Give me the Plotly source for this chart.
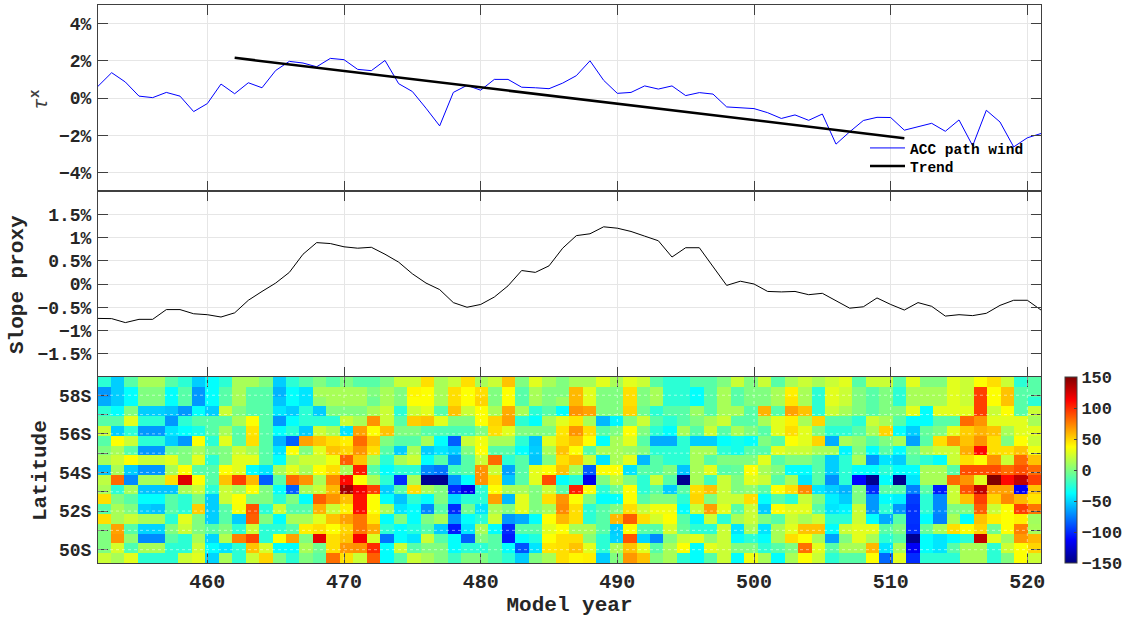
import plotly.graph_objects as go

years = list(range(452, 522))
wind_pct = [0.63,1.36,0.86,0.1,0.02,0.3,0.1,-0.73,-0.3,0.75,0.23,0.82,0.55,1.48,1.97,1.88,1.68,2.13,2.06,1.54,1.47,2.02,0.77,
            0.35,-0.55,-1.5,0.3,0.68,0.42,1.0,1.0,0.58,0.55,0.5,0.8,1.2,2.0,0.95,0.25,0.3,0.65,0.48,0.65,0.13,0.29,0.21,-0.48,-0.54,
            -0.57,-0.79,-1.1,-0.91,-1.2,-0.86,-2.48,-1.82,-1.21,-1.04,-1.05,-1.73,-1.55,-1.36,-1.79,-1.18,-2.57,-0.66,-1.29,-2.63,-2.14,-1.91]
trend_years = [462, 511]
trend_pct = [2.16, -2.16]
slope_pct = [-0.74,-0.745,-0.83,-0.76,-0.76,-0.55,-0.55,-0.64,-0.66,-0.71,-0.62,-0.35,-0.16,0.02,0.25,0.64,0.89,0.87,0.8,0.77,0.79,0.64,0.47,
             0.22,0.02,-0.12,-0.4,-0.5,-0.44,-0.28,-0.04,0.29,0.25,0.39,0.77,1.04,1.08,1.23,1.2,1.13,1.03,0.93,0.58,0.78,0.78,0.38,-0.03,0.06,0.0,
             -0.16,-0.17,-0.16,-0.23,-0.2,-0.36,-0.52,-0.49,-0.3,-0.44,-0.56,-0.4,-0.48,-0.69,-0.66,-0.68,-0.63,-0.46,-0.35,-0.35,-0.56]

r00 = [-25,-52,-12,12,12,-12,-25,-52,-37,-25,12,12,0,-52,-25,-12,0,-12,0,-12,-12,0,22,22,
       47,12,22,47,12,22,55,0,29,12,0,12,12,29,12,29,22,-12,-25,-25,-12,-12,0,22,0,
       22,-12,12,22,12,22,29,-12,22,22,-12,29,0,0,29,22,37,47,22,-25,-12]
r01 = [-68,-52,-37,0,0,-37,-12,-68,-37,-12,12,-12,-12,-60,-37,-45,12,12,12,12,0,12,0,40,
       37,12,47,37,47,0,37,-12,12,0,0,58,29,0,0,47,0,12,-25,-25,-37,-12,12,-12,0,
       0,12,42,12,-25,29,22,0,-12,0,-25,12,12,12,29,22,94,37,55,-12,-12]
r02 = [-62,-52,-37,0,0,-37,-12,-68,-37,-12,12,-12,-12,-55,-37,-45,5,12,12,12,-5,12,0,37,
       37,12,47,37,50,0,37,-12,12,0,8,58,29,0,0,47,0,12,-25,-25,-37,-12,12,-12,0,
       0,12,45,12,-25,29,22,0,-12,0,-25,12,12,12,29,22,94,37,55,-12,-25]
r03 = [-25,-37,0,-52,-52,-55,-68,-37,-52,22,0,-12,-12,-45,-52,-25,-52,0,0,0,12,22,-25,22,
       29,-12,55,22,37,12,62,12,-25,-12,-37,69,65,0,0,50,-5,-25,-12,-12,8,-12,12,12,-12,
       60,-12,65,55,-25,22,12,0,-12,0,0,29,-37,29,29,29,94,22,37,-12,22]
r04 = [-12,-12,29,-25,-25,-68,-25,-12,-12,-12,12,37,-12,-68,-37,-25,-25,-25,22,12,69,22,-12,52,
       55,29,0,0,37,50,65,-25,-37,12,29,45,12,-58,-40,0,22,-12,-25,-12,0,12,22,-12,-12,
       12,29,42,12,50,-12,-12,-25,22,12,-12,-37,-37,-12,-12,81,69,29,29,29,12]
r05 = [22,-52,-25,-68,-68,-45,-37,-30,-12,12,-12,45,-12,-37,-25,-52,22,12,-45,65,37,55,0,0,
       -12,-15,-15,-15,0,47,29,0,0,0,45,69,47,-12,0,37,0,-25,-37,12,-12,22,-12,12,0,
       -12,29,47,29,0,-25,-25,-12,12,50,-37,-52,-8,0,29,52,60,55,12,29,29]
r06 = [-12,37,22,-25,-25,-52,-68,37,-25,29,-12,47,-12,-60,-85,65,55,47,42,81,55,0,-12,-12,
       12,-37,-85,22,33,12,12,-25,-55,29,47,55,37,-37,12,29,-12,-62,-62,-25,-52,-52,-37,-32,-37,
       0,-12,37,29,50,-62,12,5,-12,0,12,-65,-12,47,69,55,69,47,0,37,22]
r07 = [0,12,-12,-68,-68,-5,0,12,-5,0,22,12,-12,-45,37,0,29,55,50,69,47,-12,-52,12,
       -52,-45,-52,0,37,-12,-12,-37,-52,12,55,37,-12,12,12,8,0,-25,-25,-25,12,12,-25,-32,-12,
       -12,29,22,22,12,12,-40,0,-37,-12,-37,-6,12,22,22,62,110,47,47,55,33]
r08 = [12,22,37,22,22,29,0,29,-25,0,29,29,-12,-37,12,22,22,33,85,55,12,-25,12,22,
       -37,-12,-68,-12,22,81,-25,-12,-55,0,47,55,22,-45,12,29,-58,-12,-25,-25,12,-12,0,0,0,
       29,-12,0,0,-12,-52,-25,12,-68,-45,-52,-12,-25,-37,22,47,37,69,22,81,55]
r09 = [-55,12,-52,-68,-68,12,37,-12,-12,37,29,-37,-45,12,29,12,37,47,12,105,-12,-37,-25,-25,
       -72,-78,-18,-12,69,22,-65,-12,30,37,55,12,-85,37,37,-45,-12,-12,0,-55,12,29,-12,-8,37,
       12,0,-37,-37,-12,-52,-25,-37,-37,-25,-37,-37,12,12,-12,90,90,90,81,90,81]
r10 = [18,81,-72,12,12,47,122,37,-12,55,94,58,-85,-12,81,69,12,72,110,37,12,-25,-100,12,
       -145,-145,-68,-37,69,47,-55,-12,29,90,-37,-25,-118,0,20,0,-25,22,-12,-145,12,-18,22,0,29,
       22,-12,12,-45,-12,-70,-25,-112,-145,-37,-145,-45,12,12,81,69,29,150,110,131,94]
r11 = [12,-25,12,-55,-55,-55,12,22,-25,22,12,37,0,-37,-85,12,22,58,140,115,94,-52,-12,47,
       12,0,-100,-118,-25,37,12,12,0,22,-12,103,37,-25,-5,37,-25,-12,-52,-12,47,55,22,0,5,
       -12,37,47,72,-45,-52,-60,0,-100,-12,-12,-75,-12,-105,22,88,131,65,65,-115,55]
r12 = [47,0,-12,-37,-37,-12,-25,0,-52,22,37,0,0,-25,0,-37,85,69,55,108,37,-37,-55,-25,
       -37,0,-48,-25,-25,65,-58,29,0,47,69,37,0,-37,-37,37,-12,0,0,-25,50,0,22,22,47,
       -37,-12,-25,22,0,-42,-52,0,-68,-37,-42,-95,-25,-72,22,55,94,50,72,58,45]
r13 = [-12,12,0,-52,-55,-12,-25,52,-52,-12,35,88,-25,22,-12,-12,60,22,42,108,37,12,-45,-37,
       -72,-12,-100,-5,-45,12,0,29,0,12,72,47,-25,-12,0,47,22,33,33,-37,22,66,29,-12,22,
       -52,37,29,29,-12,-45,-40,22,-68,-25,-68,-98,-25,-72,0,0,85,22,37,94,78]
r14 = [47,12,22,12,12,-25,29,0,-52,-12,-52,85,0,-37,12,12,29,55,65,78,45,-37,0,-37,
       0,12,-68,-37,-25,22,-68,-62,-37,37,58,47,-25,-12,58,85,47,25,37,-12,-40,22,-25,12,22,
       0,-12,22,12,22,-25,-25,22,-37,-62,-12,-98,-37,-75,12,-37,55,42,37,42,10]
r15 = [0,65,-12,-50,-50,0,22,0,-12,0,-25,22,-25,-25,-12,42,47,37,50,78,62,-25,-37,-28,
       -12,-52,-105,-45,12,-37,-100,-12,-12,29,37,12,12,-12,-52,37,-12,-12,25,-8,-25,-25,22,-45,12,
       -45,12,29,55,55,-37,22,29,29,-12,0,-100,-8,12,47,37,50,-5,37,75,12]
r16 = [0,68,5,-72,-72,-12,-25,12,-50,15,75,92,-25,37,65,0,120,47,55,115,26,-78,-37,-45,
       22,-12,-37,-85,0,-12,-105,-37,-28,37,47,47,3,-25,-50,88,-50,-72,0,22,29,5,22,-37,-25,
       -37,12,47,37,12,-65,0,29,12,-25,-12,-145,-37,-45,-37,-25,131,29,8,68,58]
r17 = [0,25,-15,12,12,-25,-25,22,-37,-45,-25,55,25,-37,-37,12,-5,47,68,70,100,-37,22,-12,
       0,0,-37,-25,-25,-12,-37,-88,-45,45,47,55,29,-25,12,55,29,-12,12,37,-37,29,22,0,0,
       -25,-12,0,80,29,-12,12,12,58,-45,12,-115,-37,-45,-12,12,12,-25,22,37,50]
r18 = [22,12,29,-25,-25,-25,22,29,-50,12,-25,22,50,0,-25,0,-10,80,47,22,85,-37,-12,22,
       12,0,-20,0,0,-12,-25,-52,0,12,47,40,42,-52,0,68,55,0,12,-25,-37,-12,22,-37,33,
       12,-37,12,37,22,-25,-12,-12,37,-82,29,-100,-25,-25,-25,12,12,-25,0,37,22]
heat_rows = [r00,r01,r02,r03,r04,r05,r06,r07,r08,r09,r10,r11,r12,r13,r14,r15,r16,r17,r18]

x_edges = [452] + [452.93 + k * (521 - 452.93) / 69 for k in range(70)]
lat_edges = [-58.945 + k * 0.5071 for k in range(20)]

year_ticks = [460, 470, 480, 490, 500, 510, 520]
wind_ticks = [-4, -2, 0, 2, 4]
wind_labels = ['−4%', '−2%', '0%', '2%', '4%']
slope_ticks = [-1.5, -1, -0.5, 0, 0.5, 1, 1.5]
slope_labels = ['−1.5%', '−1%', '−0.5%', '0%', '0.5%', '1%', '1.5%']
lat_ticks = [-58, -56, -54, -52, -50]
lat_labels = ['58S', '56S', '54S', '52S', '50S']
lat_minor = [-57, -55, -53, -51]
cbar_ticks = [-150, -100, -50, 0, 50, 100, 150]

W, H = 1128, 617
MONO = 'Liberation Mono'
INK = '#262626'
LINE = '#404040'
GRID = '#e6e6e6'
L, R = 98, 1041
jet = [[0, '#000080'], [0.125, '#0000ff'], [0.375, '#00ffff'], [0.625, '#ffff00'], [0.875, '#ff0000'], [1, '#800000']]

fig = go.Figure()
fig.add_trace(go.Scatter(x=years, y=wind_pct, mode='lines', name='ACC path wind', legend='legend',
                         line=dict(color='#0000ff', width=1), xaxis='x', yaxis='y'))
fig.add_trace(go.Scatter(x=trend_years, y=trend_pct, mode='lines', name='Trend', legend='legend2',
                         line=dict(color='black', width=2.5), xaxis='x', yaxis='y'))
fig.add_trace(go.Scatter(x=years, y=slope_pct, mode='lines', showlegend=False,
                         line=dict(color='black', width=1), xaxis='x2', yaxis='y2'))
fig.add_trace(go.Heatmap(x=x_edges, y=lat_edges, z=heat_rows, zmin=-150, zmax=150, colorscale=jet,
                         xaxis='x3', yaxis='y3',
                         colorbar=dict(x=1065 / W, xanchor='left', y=1 - 377 / H, yanchor='top',
                                       len=186 / H, lenmode='fraction', thickness=12, thicknessmode='pixels',
                                       xpad=0, ypad=0, outlinecolor=LINE, outlinewidth=1,
                                       tickvals=cbar_ticks, ticks='inside', ticklen=3, tickcolor=LINE,
                                       tickfont=dict(family=MONO, size=17, color=INK, weight='bold'))))

def xa(anchor, show):
    return dict(domain=[L / W, R / W], range=[452, 521], tickvals=year_ticks, ticks='inside', ticklen=10,
                tickcolor=LINE, tickwidth=1, linecolor=LINE, linewidth=1, mirror='ticks',
                showgrid=True, gridcolor=GRID, gridwidth=1, zeroline=False, showticklabels=show,
                tickfont=dict(family=MONO, size=20, color=INK, weight='bold'), anchor=anchor)

def ya(top, bot, rng, vals, labels, anchor):
    return dict(domain=[1 - bot / H, 1 - top / H], range=rng, tickvals=vals, ticktext=labels, ticks='inside',
                ticklen=10, tickcolor=LINE, tickwidth=1, linecolor=LINE, linewidth=1, mirror='ticks',
                showgrid=True, gridcolor=GRID, gridwidth=1, zeroline=False, anchor=anchor, ticklabelstandoff=2,
                tickfont=dict(family=MONO, size=18, color=INK, weight='bold'))

def lg(top):
    return dict(x=865 / W, y=1 - top / H, xanchor='left', yanchor='top', bgcolor='rgba(0,0,0,0)',
                itemwidth=35, font=dict(family=MONO, size=14.5, color='black', weight='bold'))

y3 = ya(377, 563, [-49.31, -58.945], lat_ticks, lat_labels, 'x3')
y3['minor'] = dict(tickvals=lat_minor, ticks='inside', ticklen=10, tickcolor=LINE, tickwidth=1, showgrid=False)

fig.update_layout(
    width=W, height=H, margin=dict(l=0, r=0, t=0, b=0, autoexpand=False), paper_bgcolor='white', plot_bgcolor='white',
    xaxis=xa('y', False), xaxis2=xa('y2', False), xaxis3=xa('y3', True),
    yaxis=ya(5, 191, [-5, 5], wind_ticks, wind_labels, 'x'),
    yaxis2=ya(191, 377, [-2, 2], slope_ticks, slope_labels, 'x2'),
    yaxis3=y3,
    legend=lg(132), legend2=lg(150),
    showlegend=True,
)
fig.update_layout(xaxis3_title=dict(text='Model year', font=dict(family=MONO, size=21, color=INK, weight='bold'), standoff=12))

annos = [
    dict(text='Slope proxy', x=17 / W, y=1 - 285 / H, textangle=-90, font=dict(family=MONO, size=21, color=INK, weight='bold')),
    dict(text='Latitude', x=40 / W, y=1 - 471 / H, textangle=-90, font=dict(family=MONO, size=21, color=INK, weight='bold')),
    dict(text='<i>τ</i><sup><b>x</b></sup>', x=40 / W, y=1 - 100 / H, textangle=-90, font=dict(family=MONO, size=20, color='#404040')),
]
fig.update_layout(annotations=[dict(a, xref='paper', yref='paper', showarrow=False, xanchor='center', yanchor='middle') for a in annos])

dotted = dict(color='rgba(255,255,255,0.5)', width=1, dash='dot')
shapes = [dict(type='line', layer='above', xref='x3', yref='y3', x0=452, x1=521, y0=t, y1=t, line=dotted) for t in lat_ticks + lat_minor]
shapes += [dict(type='line', layer='above', xref='x3', yref='y3', x0=t, x1=t, y0=-58.945, y1=-49.31, line=dotted) for t in year_ticks]
fig.update_layout(shapes=shapes)

fig.write_html('out.html', config={'displayModeBar': False}, post_script="document.body.style.margin='0';")
